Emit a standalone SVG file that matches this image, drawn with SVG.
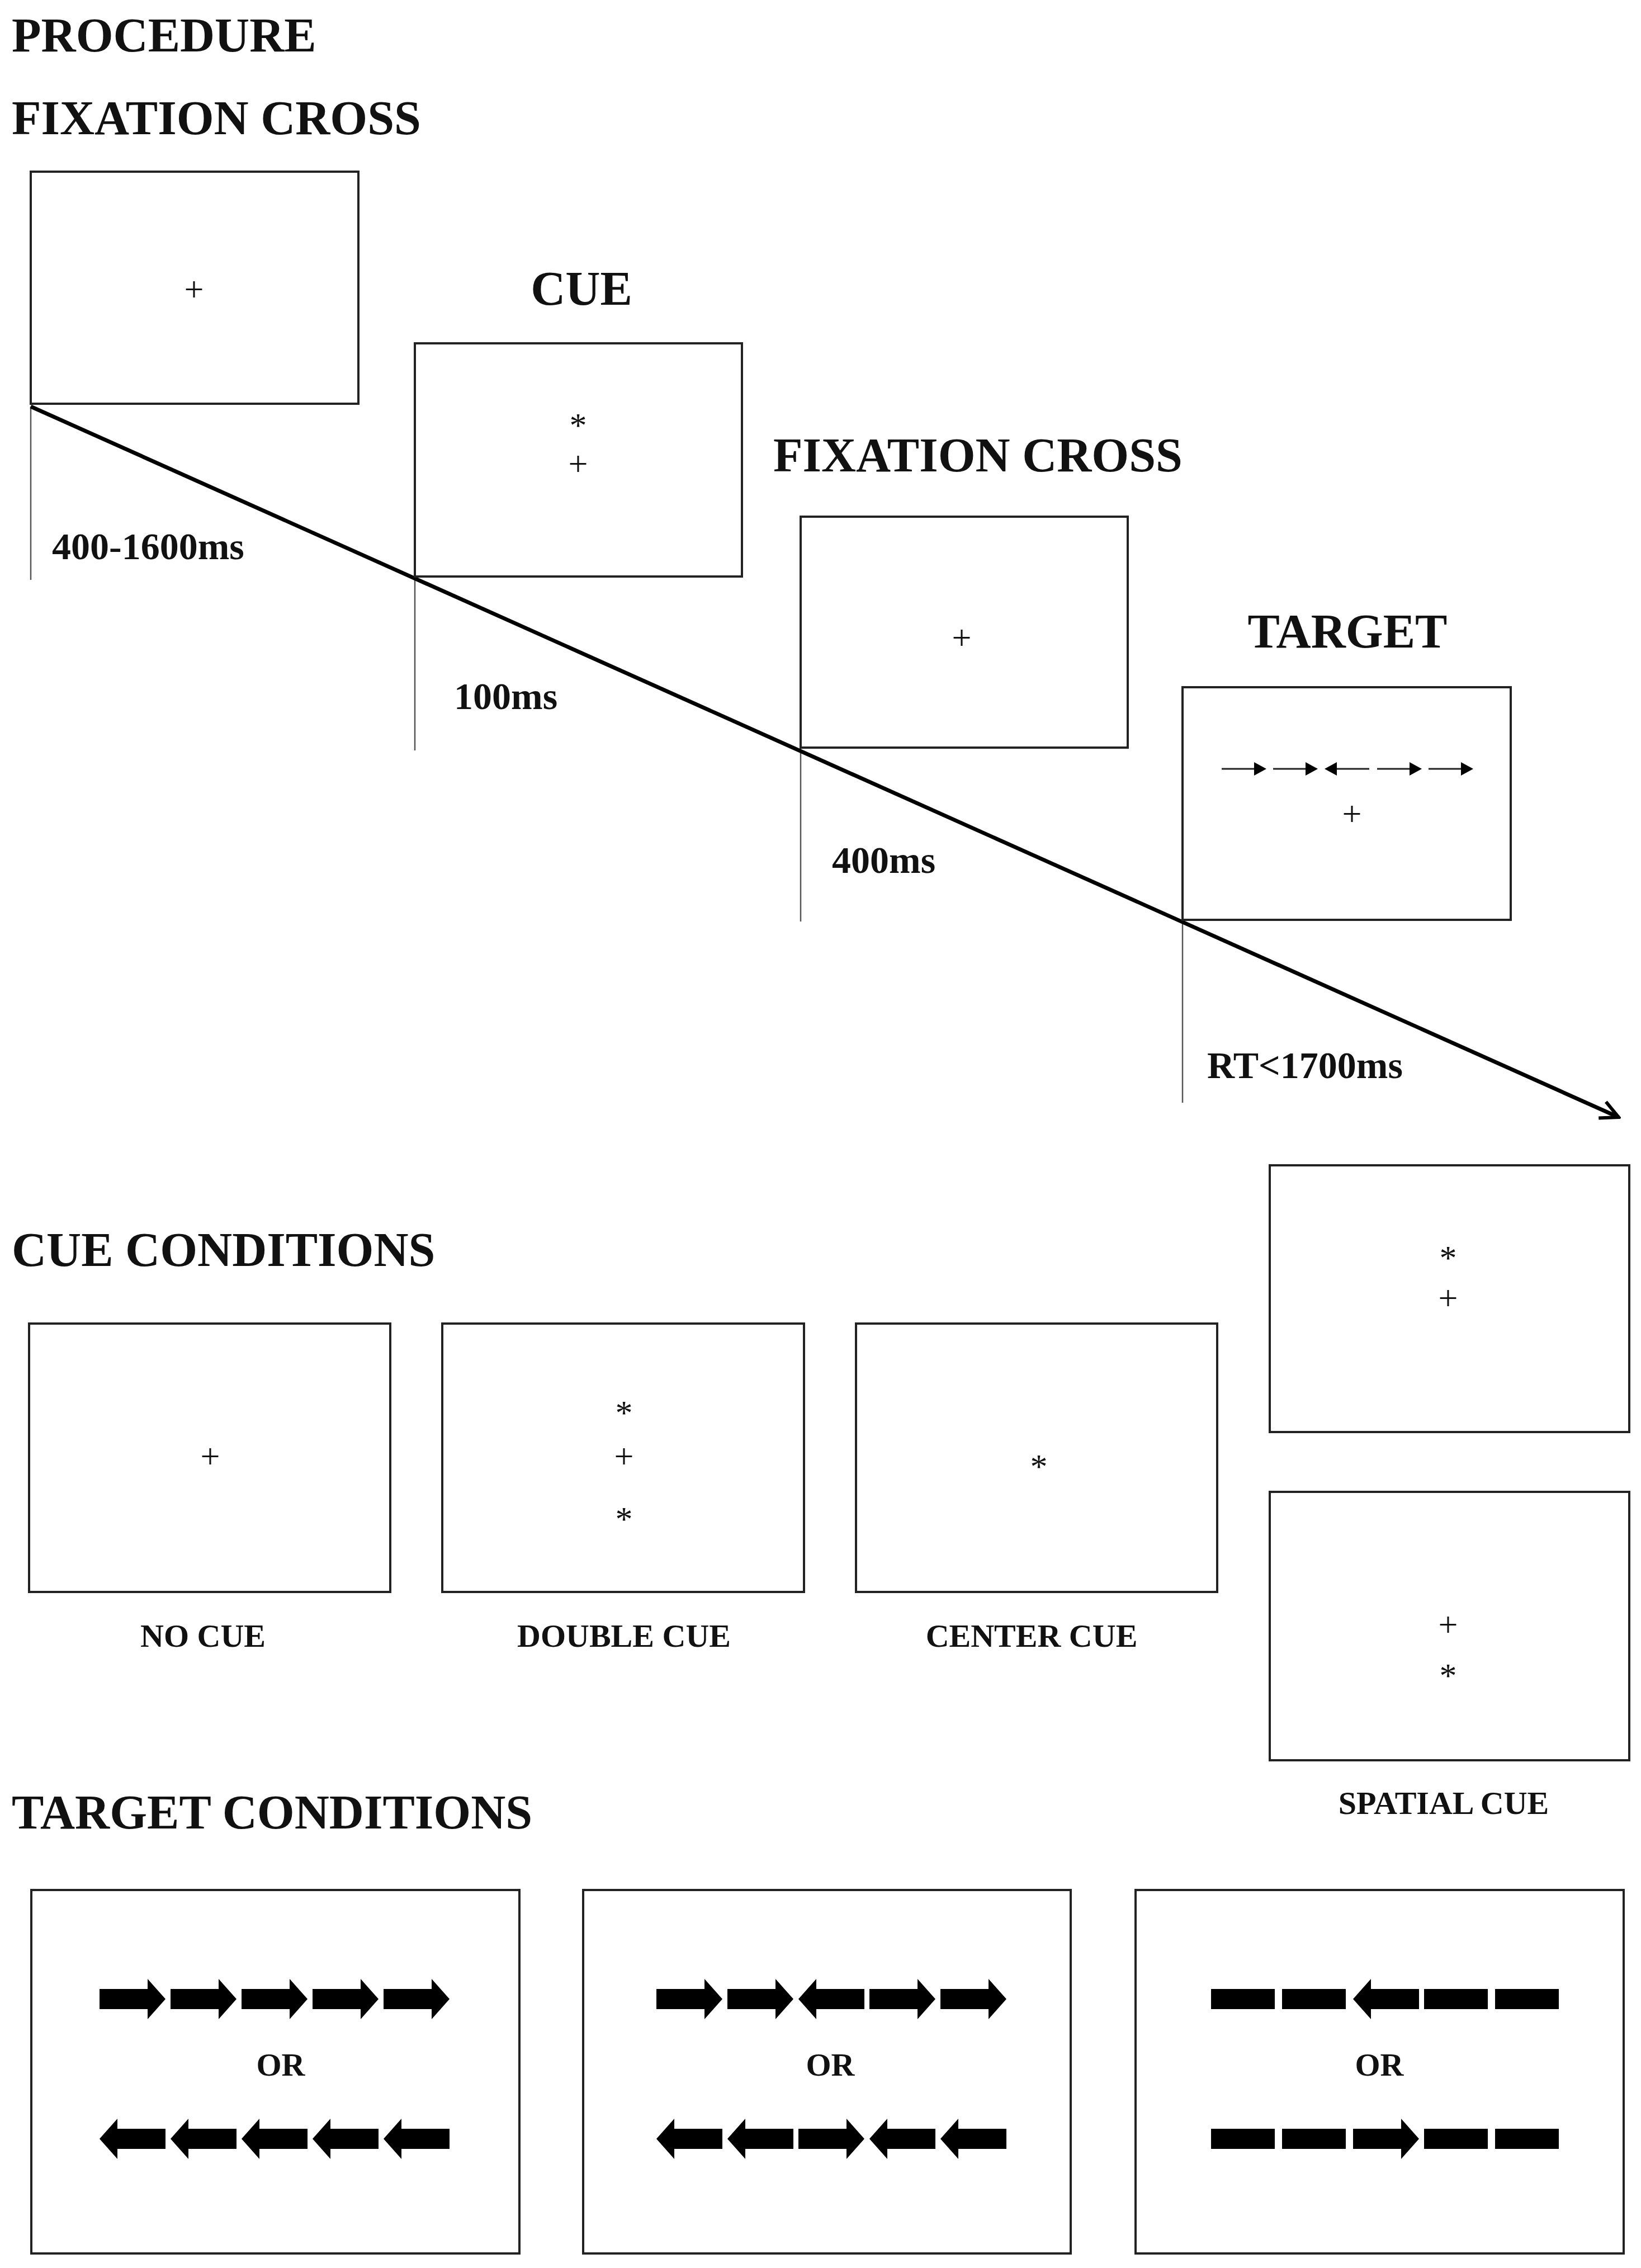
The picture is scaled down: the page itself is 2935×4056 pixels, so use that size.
<svg xmlns="http://www.w3.org/2000/svg" xmlns:xlink="http://www.w3.org/1999/xlink" width="2935" height="4056" viewBox="0 0 2935 4056">
<style>
text{font-family:"Liberation Serif","Times New Roman",serif;fill:#111}
.h{font-size:86px;font-weight:bold}
.t{font-size:68px;font-weight:bold}
.l{font-size:58px;font-weight:bold;text-anchor:middle}
.s{font-size:62px;text-anchor:middle}
.box{fill:#fff;stroke:#222;stroke-width:4}
.tick{stroke:#555;stroke-width:2.5}
</style>
<defs>
<path id="ar" d="M0,-18 H86 V-36 L118,0 L86,36 V18 H0 Z" fill="#000"/>
<g id="sr"><path d="M0,0 H62" stroke="#222" stroke-width="3"/><path d="M58,-12 L80,0 L58,12 Z" fill="#000"/></g>
<marker id="m" viewBox="0 0 40 40" refX="36" refY="20" markerWidth="40" markerHeight="40" orient="auto" markerUnits="userSpaceOnUse">
<path d="M4,4 L36,20 L4,36" fill="none" stroke="#000" stroke-width="6"/></marker>
</defs>
<rect width="2935" height="4056" fill="#fff"/>
<text class="h" x="21" y="92">PROCEDURE</text>
<text class="h" x="21" y="240">FIXATION CROSS</text>
<text class="h" x="1040" y="545" text-anchor="middle">CUE</text>
<text class="h" x="1383" y="843">FIXATION CROSS</text>
<text class="h" x="2410" y="1158" text-anchor="middle">TARGET</text>

<g id="connectors">
<line class="tick" x1="55" y1="727" x2="55" y2="1037"/>
<line class="tick" x1="742" y1="1031" x2="742" y2="1342"/>
<line class="tick" x1="1432" y1="1339" x2="1432" y2="1648"/>
<line class="tick" x1="2115" y1="1645" x2="2115" y2="1972"/>
<line x1="55" y1="727" x2="2895" y2="1998" stroke="#000" stroke-width="7" marker-end="url(#m)"/>
</g>

<g id="fix1"><rect class="box" x="55" y="307" width="586" height="415"/><text class="s" x="347" y="538">+</text></g>
<g id="cue"><rect class="box" x="742" y="614" width="585" height="417"/><text class="s" x="1034" y="781">*</text><text class="s" x="1034" y="850">+</text></g>
<g id="fix2"><rect class="box" x="1432" y="924" width="585" height="413"/><text class="s" x="1720" y="1161">+</text></g>
<g id="target"><rect class="box" x="2115" y="1229" width="587" height="416"/>
<use xlink:href="#sr" x="2185" y="1375"/><use xlink:href="#sr" x="2277" y="1375"/>
<g transform="translate(2449,1375) scale(-1,1)"><use xlink:href="#sr"/></g>
<use xlink:href="#sr" x="2463" y="1375"/><use xlink:href="#sr" x="2555" y="1375"/>
<text class="s" x="2418" y="1476">+</text></g>

<text class="h" x="21" y="2264">CUE CONDITIONS</text>
<g id="nocue"><rect class="box" x="52" y="2367" width="646" height="480"/><text class="s" x="376" y="2625">+</text><text class="l" x="363" y="2945">NO CUE</text></g>
<g id="double"><rect class="box" x="791" y="2367" width="647" height="480"/><text class="s" x="1116" y="2547">*</text><text class="s" x="1116" y="2625">+</text><text class="s" x="1116" y="2737">*</text><text class="l" x="1116" y="2945">DOUBLE CUE</text></g>
<g id="center"><rect class="box" x="1531" y="2367" width="646" height="480"/><text class="s" x="1858" y="2643">*</text><text class="l" x="1845" y="2945">CENTER CUE</text></g>
<g id="spatial1"><rect class="box" x="2271" y="2084" width="643" height="477"/><text class="s" x="2590" y="2270">*</text><text class="s" x="2590" y="2342">+</text></g>
<g id="spatial2"><rect class="box" x="2271" y="2668" width="643" height="480"/><text class="s" x="2590" y="2926">+</text><text class="s" x="2590" y="3017">*</text><text class="l" x="2582" y="3244">SPATIAL CUE</text></g>

<text class="h" x="21" y="3270">TARGET CONDITIONS</text>

<g id="congruent"><rect class="box" x="56" y="3380" width="873" height="650"/>
<use xlink:href="#ar" x="178" y="3575"/><use xlink:href="#ar" x="305" y="3575"/><use xlink:href="#ar" x="432" y="3575"/><use xlink:href="#ar" x="559" y="3575"/><use xlink:href="#ar" x="686" y="3575"/>
<text class="l" x="502" y="3712">OR</text>
<g transform="translate(296,3825) scale(-1,1)"><use xlink:href="#ar"/></g><g transform="translate(423,3825) scale(-1,1)"><use xlink:href="#ar"/></g><g transform="translate(550,3825) scale(-1,1)"><use xlink:href="#ar"/></g><g transform="translate(677,3825) scale(-1,1)"><use xlink:href="#ar"/></g><g transform="translate(804,3825) scale(-1,1)"><use xlink:href="#ar"/></g>
</g>
<g id="incongruent"><rect class="box" x="1043" y="3380" width="872" height="650"/>
<use xlink:href="#ar" x="1174" y="3575"/><use xlink:href="#ar" x="1301" y="3575"/><g transform="translate(1546,3575) scale(-1,1)"><use xlink:href="#ar"/></g><use xlink:href="#ar" x="1555" y="3575"/><use xlink:href="#ar" x="1682" y="3575"/>
<text class="l" x="1485" y="3712">OR</text>
<g transform="translate(1292,3825) scale(-1,1)"><use xlink:href="#ar"/></g><g transform="translate(1419,3825) scale(-1,1)"><use xlink:href="#ar"/></g><use xlink:href="#ar" x="1428" y="3825"/><g transform="translate(1673,3825) scale(-1,1)"><use xlink:href="#ar"/></g><g transform="translate(1800,3825) scale(-1,1)"><use xlink:href="#ar"/></g>
</g>
<g id="neutral"><rect class="box" x="2031" y="3380" width="873" height="650"/>
<rect x="2166" y="3557" width="114" height="36"/><rect x="2293" y="3557" width="114" height="36"/><g transform="translate(2538,3575) scale(-1,1)"><use xlink:href="#ar"/></g><rect x="2547" y="3557" width="114" height="36"/><rect x="2674" y="3557" width="114" height="36"/>
<text class="l" x="2467" y="3712">OR</text>
<rect x="2166" y="3807" width="114" height="36"/><rect x="2293" y="3807" width="114" height="36"/><use xlink:href="#ar" x="2420" y="3825"/><rect x="2547" y="3807" width="114" height="36"/><rect x="2674" y="3807" width="114" height="36"/>
</g>

<text class="t" x="93" y="1000">400-1600ms</text>
<text class="t" x="812" y="1268">100ms</text>
<text class="t" x="1488" y="1561">400ms</text>
<text class="t" x="2159" y="1928">RT&lt;1700ms</text>
</svg>
